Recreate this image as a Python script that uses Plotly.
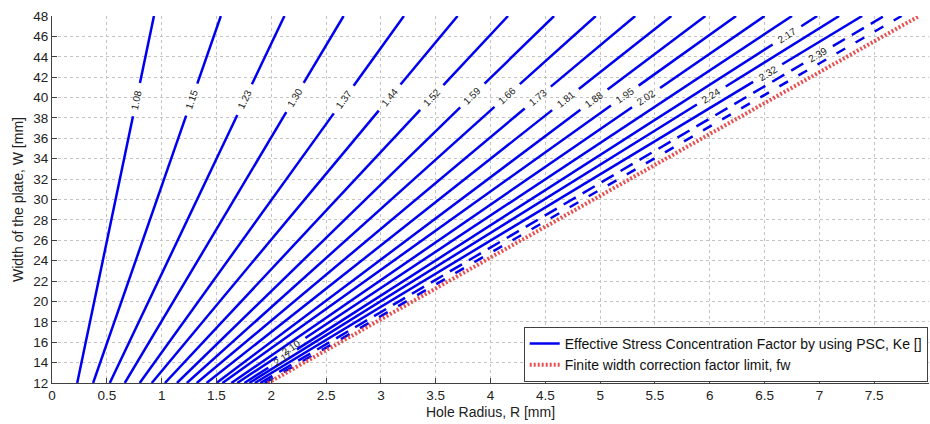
import math
import plotly.graph_objects as go

# ---- data ----
ke_levels = ["1.08", "1.15", "1.23", "1.30", "1.37", "1.44", "1.52", "1.59", "1.66", "1.73",
             "1.81", "1.88", "1.95", "2.02", "2.10", "2.17", "2.24", "2.32", "2.39", "2.46"]
# hole radius where each Ke contour meets W = 48 mm (top) and W = 12 mm (bottom)
r_at_top = [0.93, 1.54, 2.12, 2.66, 3.21, 3.70, 4.16, 4.58, 4.96, 5.32,
            5.65, 5.96, 6.24, 6.50, 6.75, 6.98, 7.18, 7.39, 7.59, 7.75]
r_at_bottom = [0.23, 0.375, 0.527, 0.664, 0.80, 0.91, 1.03, 1.14, 1.23, 1.32,
               1.41, 1.50, 1.555, 1.636, 1.69, 1.755, 1.80, 1.85, 1.90, 1.94]
w_bottom, w_top = 12, 48

# contour labels: (level, W position of label)
label_levels = ["1.08", "1.15", "1.23", "1.30", "1.37", "1.44", "1.52", "1.59", "1.66", "1.73",
                "1.81", "1.88", "1.95", "2.02", "2.10", "2.17", "2.17", "2.24", "2.32", "2.39"]
label_w = [39.8, 39.8, 39.8, 40.0, 39.8, 40.0, 40.0, 40.2, 40.2, 40.0,
           39.8, 39.8, 40.2, 40.0, 15.5, 14.4, 46.1, 40.2, 42.4, 44.2]

# finite width correction limit line
fw_r = [1.97, 7.91]
fw_w = [12, 48]

x_ticks = [0, 0.5, 1, 1.5, 2, 2.5, 3, 3.5, 4, 4.5, 5, 5.5, 6, 6.5, 7, 7.5, 8]
y_ticks = list(range(12, 49, 2))

# ---- layout geometry ----
W_FIG, H_FIG = 930, 424
M_L, M_R, M_T, M_B = 52, 1, 16, 41
px_per_r = (W_FIG - M_L - M_R) / 8.0
px_per_w = (H_FIG - M_T - M_B) / 36.0
GAP_HALF = 17  # px half-gap around a label

FONT = "Arial, Liberation Sans"
dash_style = {"2.39": "14px,8px", "2.46": "10px,12px"}

fig = go.Figure()
annotations = []

for i, lvl in enumerate(ke_levels):
    rb, rt = r_at_bottom[i], r_at_top[i]
    dr_px = (rt - rb) * px_per_r
    dw_px = (w_top - w_bottom) * px_per_w
    L = math.hypot(dr_px, dw_px)
    ang = math.degrees(math.atan2(dw_px, dr_px))
    gaps = []
    for lv, lw in zip(label_levels, label_w):
        if lv == lvl:
            t = (lw - w_bottom) / (w_top - w_bottom)
            gaps.append((t - GAP_HALF / L, t + GAP_HALF / L))
            annotations.append(dict(
                x=rb + t * (rt - rb), y=lw, xref="x", yref="y", text=lv,
                showarrow=False, textangle=-ang,
                font=dict(family=FONT, size=10, color="#222")))
    gaps.sort()
    xs, ys = [], []
    t0 = 0.0
    for g0, g1 in gaps + [(1.0, 1.0)]:
        g0 = max(g0, 0.0)
        if g0 > t0:
            xs += [rb + t0 * (rt - rb), rb + g0 * (rt - rb), None]
            ys += [w_bottom + t0 * (w_top - w_bottom), w_bottom + g0 * (w_top - w_bottom), None]
        t0 = min(g1, 1.0)
    fig.add_trace(go.Scatter(
        x=xs, y=ys, mode="lines",
        line=dict(color="#0000F0", width=2.5, dash=dash_style.get(lvl, "solid")),
        name="Effective Stress Concentration Factor by using PSC, Ke []",
        legendgroup="ke", showlegend=(i == 0), hoverinfo="skip"))

fig.add_trace(go.Scatter(
    x=fw_r, y=fw_w, mode="lines",
    line=dict(color="rgba(225,50,50,0.85)", width=4, dash="2px,2px"),
    name="Finite width correction factor limit, fw", hoverinfo="skip"))

axis_common = dict(
    showgrid=True, gridcolor="#C4C4C4", griddash="dot", gridwidth=1,
    showline=True, linecolor="#404040", linewidth=1, mirror=False,
    ticks="inside", ticklen=5, tickcolor="#404040",
    tickfont=dict(family=FONT, size=13.5, color="#222"),
    zeroline=False, automargin=False,
)

fig.update_layout(
    template="none",
    width=W_FIG, height=H_FIG,
    margin=dict(l=M_L, r=M_R, t=M_T, b=M_B),
    paper_bgcolor="white", plot_bgcolor="white",
    font=dict(family=FONT, size=13.5, color="#222"),
    xaxis=dict(range=[0, 8], tickvals=x_ticks, ticktext=[f"{v:g}" for v in x_ticks],
               title=dict(text="Hole Radius, R [mm]", standoff=4,
                          font=dict(family=FONT, size=14, color="#222")),
               **axis_common),
    yaxis=dict(range=[12, 48], tickvals=y_ticks,
               title=dict(text="Width of the plate, W [mm]", standoff=6,
                          font=dict(family=FONT, size=14, color="#222")),
               **axis_common),
    legend=dict(x=0.9985, xanchor="right", y=0.003, yanchor="bottom",
                bgcolor="white", bordercolor="#404040", borderwidth=1,
                font=dict(family=FONT, size=14, color="#111"),
                tracegroupgap=0, itemwidth=30),
    annotations=annotations,
    showlegend=True,
)

fig.write_html("out.html")
